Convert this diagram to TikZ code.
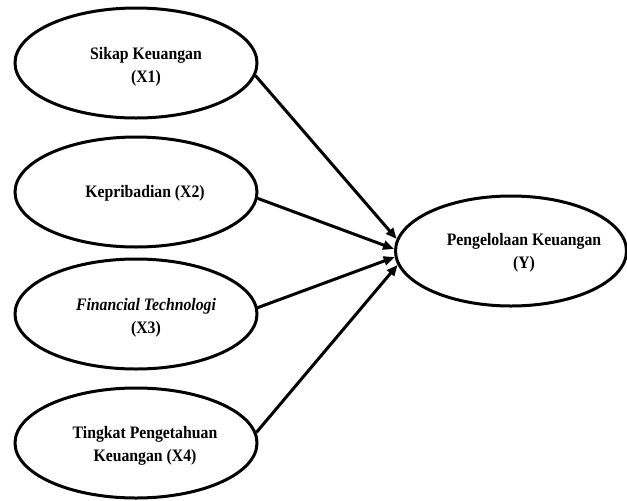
\documentclass[tikz,border=0pt]{standalone}
\usepackage{fontspec}
\setmainfont{Liberation Serif}[FakeStretch=0.9]
\usetikzlibrary{shapes.geometric,arrows.meta}
\begin{document}
\begin{tikzpicture}[x=1pt,y=-1pt,
  oval/.style={draw=black,line width=3pt,ellipse,minimum width=242pt,minimum height=110pt,inner sep=0pt},
  lbl/.style={align=center,font=\fontsize{17.5pt}{23.5pt}\selectfont\bfseries,inner sep=0pt},
  arr/.style={line width=3pt,-{Triangle[length=11pt,width=9pt]}}]
\useasboundingbox (0,0) rectangle (627,501);
\node[oval] (x1) at (136,63) {};
\node[oval] (x2) at (136,192) {};
\node[oval] (x3) at (136,314) {};
\node[oval] (x4) at (136,443) {};
\node[oval,minimum width=231pt,minimum height=110pt] (y) at (511,251) {};
\node[lbl] (t1) at (146,67) {Sikap Keuangan\\(X1)};
\node[lbl] (t2) at (145,193) {Kepribadian (X2)};
\node[lbl] (t3) at (146,318) {\textit{Financial Technologi}\\(X3)};
\node[lbl] (t4) at (145,446) {Tingkat Pengetahuan\\Keuangan (X4)};
\node[lbl] (ty) at (524,253) {Pengelolaan Keuangan\\(Y)};
\draw[arr] (x1.-6) -- (y.174);
\draw[arr] (x2.-3) -- (y.179);
\draw[arr] (x3.3) -- (y.-177);
\draw[arr] (x4.5) -- (y.-173);
\end{tikzpicture}
\end{document}
